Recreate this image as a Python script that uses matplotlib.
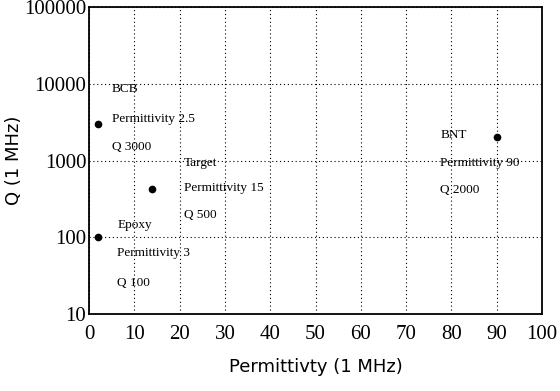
import matplotlib
matplotlib.use('Agg')
import matplotlib.pyplot as plt

# materials: permittivity and Q, both at 1 MHz
names = ['BCB', 'Target', 'Epoxy', 'BNT']
perm = [2, 14, 2, 90]
q = [3000, 430, 100, 2050]
labels = [['BCB', 'Permittivity 2.5', 'Q 3000'],
          ['Target', 'Permittivity 15', 'Q 500'],
          ['Epoxy', 'Permittivity 3', 'Q 100'],
          ['BNT', 'Permittivity 90', 'Q 2000']]
# where each label block sits (x data, y of each line)
label_x = [5, 21, 6.2, 77.5]
label_y = [[8500, 3450, 1500], [930, 440, 195], [145, 62, 25], [2150, 930, 410]]

xticks = [0, 10, 20, 30, 40, 50, 60, 70, 80, 90, 100]
yticks = [10, 100, 1000, 10000, 100000]

plt.rcParams['font.family'] = ['Liberation Serif', 'DejaVu Serif']

fig = plt.figure(figsize=(5.6, 3.91), dpi=100)
ax = fig.add_axes([0.159, 0.197, 0.809, 0.785])

ax.plot(perm, q, 'o', color='black', markersize=4.5, zorder=3)

for i in range(len(names)):
    for line, yy in zip(labels[i], label_y[i]):
        ax.text(label_x[i], yy, line, fontsize=9.5, va='center', ha='left')

ax.set_yscale('log')
ax.set_xlim(0, 100)
ax.set_ylim(10, 100000)
ax.set_xticks(xticks)
ax.set_yticks(yticks)
ax.set_xticklabels([str(t) for t in xticks])
ax.set_yticklabels([str(t) for t in yticks])
ax.minorticks_off()
ax.tick_params(length=0, labelsize=15)
ax.tick_params(axis='x', pad=8)
ax.tick_params(axis='y', pad=2)
ax.grid(True, color='black', linestyle=(0, (1, 2.5)), linewidth=0.8)
for s in ax.spines.values():
    s.set_linewidth(1.3)

sans = ['DejaVu Sans']
ax.set_xlabel('Permittivty (1 MHz)', fontsize=13, family=sans, labelpad=10)
ax.set_ylabel('Q (1 MHz)', fontsize=13, family=sans)
ax.yaxis.set_label_coords(-0.145, 0.5)

fig.savefig('out.png', dpi=100)
